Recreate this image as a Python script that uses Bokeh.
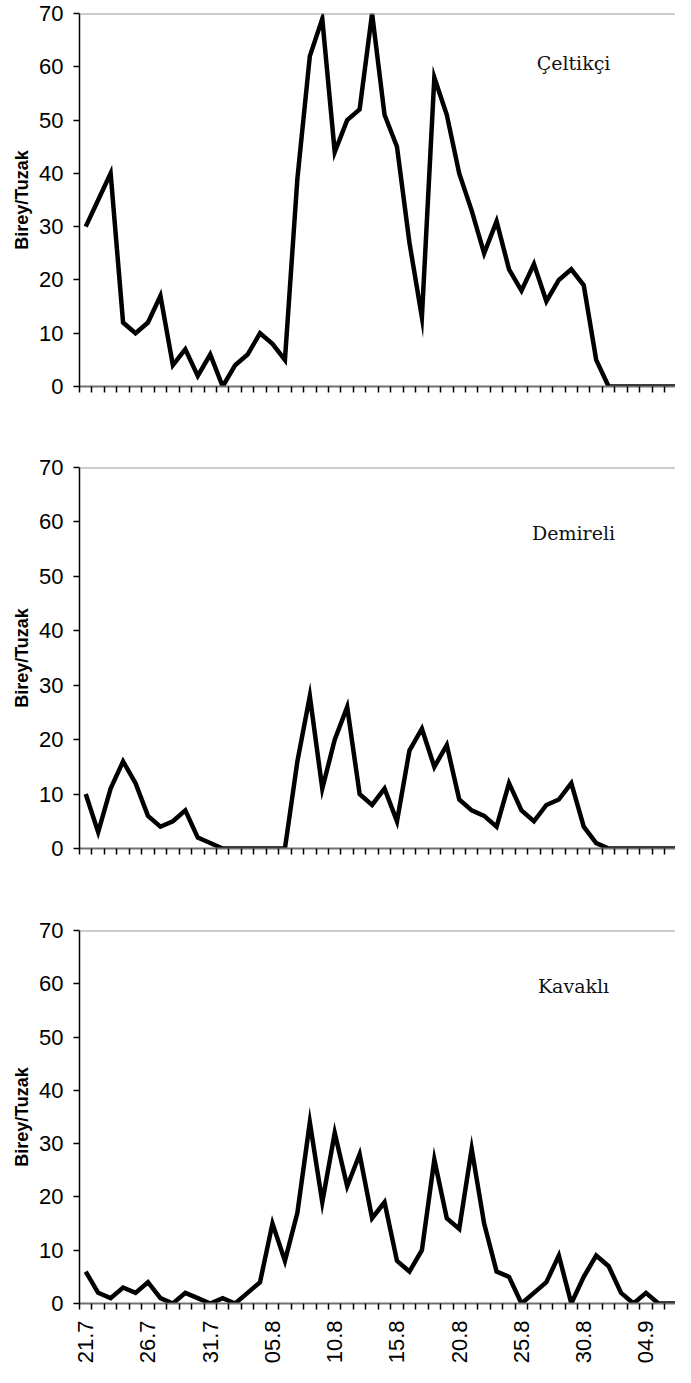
import math
from bokeh.plotting import figure
from bokeh.models import Range1d, FixedTicker, Span, Label, Title
from bokeh.layouts import column
from bokeh.embed import file_html
from bokeh.resources import INLINE

# ---- data ----
dates = ["21.7", "22.7", "23.7", "24.7", "25.7", "26.7", "27.7", "28.7", "29.7", "30.7", "31.7",
         "01.8", "02.8", "03.8", "04.8", "05.8", "06.8", "07.8", "08.8", "09.8", "10.8",
         "11.8", "12.8", "13.8", "14.8", "15.8", "16.8", "17.8", "18.8", "19.8", "20.8",
         "21.8", "22.8", "23.8", "24.8", "25.8", "26.8", "27.8", "28.8", "29.8", "30.8",
         "31.8", "01.9", "02.9", "03.9", "04.9", "05.9", "06.9", "07.9"]
tick_labels = ["21.7", "26.7", "31.7", "05.8", "10.8", "15.8", "20.8", "25.8", "30.8", "04.9"]

celtikci = [30, 35, 40, 12, 10, 12, 17, 4, 7, 2, 6, 0, 4, 6, 10, 8, 5, 39, 62, 69, 44, 50, 52, 70,
            51, 45, 27, 13, 58, 51, 40, 33, 25, 31, 22, 18, 23, 16, 20, 22, 19, 5,
            0, 0, 0, 0, 0, 0, 0]
demireli = [10, 3, 11, 16, 12, 6, 4, 5, 7, 2, 1, 0, 0, 0, 0, 0, 0, 16, 28, 11, 20, 26, 10, 8,
            11, 5, 18, 22, 15, 19, 9, 7, 6, 4, 12, 7, 5, 8, 9, 12, 4, 1,
            0, 0, 0, 0, 0, 0, 0]
kavakli = [6, 2, 1, 3, 2, 4, 1, 0, 2, 1, 0, 1, 0, 2, 4, 15, 8, 17, 34, 19,
           32, 22, 28, 16, 19, 8, 6, 10, 27, 16, 14, 29, 15, 6, 5, 0, 2, 4, 9, 0,
           5, 9, 7, 2, 0, 2, 0, 0, 0]
y_ticks = [0, 10, 20, 30, 40, 50, 60, 70]
y_label = "Birey/Tuzak"
names = ["Çeltikçi", "Demireli", "Kavaklı"]

N = len(dates)
xs = list(range(N))
X_END = 47.37  # visible part of the category axis (reference is cropped at right)


def make_panel(values, name, name_y, height, b_top, b_bottom, labels, title_offset):
    p = figure(width=675, height=height,
               x_range=Range1d(-0.5, X_END), y_range=Range1d(0, 70),
               output_backend="svg", toolbar_location=None,
               min_border_left=79, min_border_right=0,
               min_border_top=b_top, min_border_bottom=b_bottom)
    p.outline_line_color = None
    p.xgrid.visible = False
    p.ygrid.visible = False
    p.background_fill_color = "white"
    p.border_fill_color = "white"

    p.line(xs, values, line_color="black", line_width=4.5, line_join="miter")

    # top border line
    p.add_layout(Span(location=70, dimension="width", line_color="#9a9a9a", line_width=2))

    # y axis
    ya = p.yaxis[0]
    ya.ticker = FixedTicker(ticks=y_ticks)
    ya.axis_line_color = "black"
    ya.axis_line_width = 1.5
    ya.major_tick_line_color = "black"
    ya.major_tick_line_width = 1.5
    ya.major_tick_out = 6
    ya.major_tick_in = 0
    ya.minor_tick_line_color = None
    ya.major_label_text_font = "Liberation Sans"
    ya.major_label_text_font_size = "22px"
    ya.major_label_text_color = "black"
    ya.major_label_standoff = 10

    # x axis
    xa = p.xaxis[0]
    if labels:
        major = [xs[i] for i in range(0, N, 5)]
        xa.ticker = FixedTicker(ticks=major, minor_ticks=[i - 0.5 for i in range(N + 1)])
        xa.major_label_overrides = {xs[i]: dates[i] for i in range(0, N, 5)}
    else:
        xa.ticker = FixedTicker(ticks=[], minor_ticks=[i - 0.5 for i in range(N + 1)])
    xa.axis_line_color = "#707070"
    xa.axis_line_width = 2
    xa.major_tick_out = 0
    xa.major_tick_in = 0
    xa.major_tick_line_color = None
    xa.minor_tick_line_color = "black"
    xa.minor_tick_line_width = 1.5
    xa.minor_tick_out = 6
    xa.minor_tick_in = 0
    xa.major_label_text_font = "Liberation Sans"
    xa.major_label_text_font_size = "22px"
    xa.major_label_text_color = "black"
    xa.major_label_orientation = math.pi / 2
    xa.major_label_standoff = 11

    # y axis title (shifted slightly upward as in the reference)
    p.add_layout(Title(text=y_label, align="center", offset=title_offset, standoff=10,
                       text_font="Liberation Sans", text_font_style="bold",
                       text_font_size="18px", text_color="black"), "left")
    # site name
    p.add_layout(Label(x=39.18, y=name_y, text=name,
                       text_align="center", text_baseline="alphabetic",
                       text_font="DejaVu Serif", text_font_size="19px",
                       text_color="#111111"))
    return p


p1 = make_panel(celtikci, names[0], 60.8, 432, 13, 46, False, 23)
p2 = make_panel(demireli, names[1], 58.05, 462, 35, 46, False, 19)
p3 = make_panel(kavakli, names[2], 59.6, 473, 36, 64, True, 19)

layout = column(p1, p2, p3, spacing=0)
open("out.html", "w").write(file_html(layout, INLINE))
